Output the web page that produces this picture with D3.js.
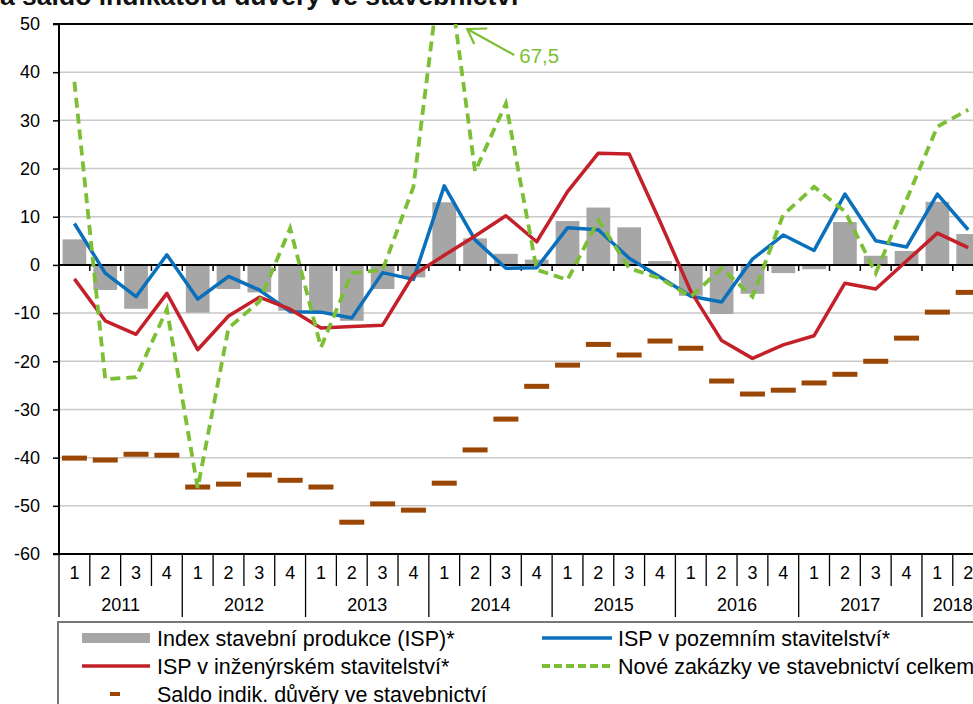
<!DOCTYPE html>
<html><head><meta charset="utf-8">
<script src="https://cdn.jsdelivr.net/npm/d3@7"></script>
<style>html,body{margin:0;padding:0;background:#fff;overflow:hidden}svg{display:block;font-family:"Liberation Sans",Arial,sans-serif}</style>
</head><body>
<svg id="c" width="973" height="704"></svg>
<script>
const years = ["2011","2012","2013","2014","2015","2016","2017","2018"];
const quarterLabels = ["1","2","3","4","1","2","3","4","1","2","3","4","1","2","3","4","1","2","3","4","1","2","3","4","1","2","3","4","1","2"];
const isp = [5.3,-5.2,-9.1,-0.2,-9.9,-5.0,-5.7,-9.5,-10.0,-11.6,-5.0,-2.6,13.0,5.5,2.3,1.1,9.1,11.9,7.8,0.8,-6.4,-10.2,-6.0,-1.7,-0.9,8.9,1.9,2.9,13.1,6.4];
const pozemni = [8.6,-1.7,-6.6,2.1,-7.1,-2.4,-5.2,-9.7,-9.8,-11.0,-1.6,-3.0,16.4,5.2,-0.7,-0.6,7.7,7.3,1.4,-2.5,-6.5,-7.7,1.2,6.2,3.0,14.7,5.0,3.7,14.7,7.3];
const inzenyrske = [-2.9,-11.6,-14.4,-5.9,-17.6,-10.6,-6.7,-9.2,-13.1,-12.8,-12.5,-2.1,2.0,6.0,10.2,4.8,15.2,23.2,23.0,9.0,-5.5,-15.7,-19.4,-16.6,-14.7,-3.8,-5.0,0.8,6.6,3.6];
const zakazky = [38.0,-23.7,-23.3,-9.2,-46.3,-13.1,-7.6,7.6,-17.1,-1.7,-1.0,16.2,67.5,19.4,33.5,-1.0,-3.1,9.3,-0.7,-2.8,-6.6,-0.7,-6.6,10.4,16.2,11.1,-1.7,13.5,28.7,32.2];
const saldo = [-40.1,-40.5,-39.3,-39.5,-46.1,-45.5,-43.6,-44.7,-46.1,-53.4,-49.6,-50.9,-45.3,-38.4,-32.0,-25.2,-20.8,-16.5,-18.7,-15.8,-17.3,-24.1,-26.8,-26.0,-24.5,-22.7,-20.0,-15.2,-9.8,-5.7];
const yTicks = [50,40,30,20,10,0,-10,-20,-30,-40,-50,-60];
const legendLabels = ["Index stavební produkce (ISP)*","ISP v pozemním stavitelství*","ISP v inženýrském stavitelství*","Nové zakázky ve stavebnictví celkem","Saldo indik. důvěry ve stavebnictví"];
const annotationLabel = "67,5";
const titleText = "a saldo indikátorů důvěry ve stavebnictví";

const W = 973, H = 704;
const L = 59, T = 24, B = 554, Q = 30.82;
const idx = d3.range(quarterLabels.length);
const x = d3.scaleBand().domain(idx).range([L, L + Q * idx.length]).paddingInner(0.23).paddingOuter(0.115);
const xc = i => x(i) + x.bandwidth() / 2;
const xb = d3.scaleLinear().domain([0, idx.length]).range([L, L + Q * idx.length]);
const y = d3.scaleLinear().domain([-60, 50]).range([B, T]);

const svg = d3.select("#c");
const C = {bar:"#a6a6a6", blue:"#0a70bb", red:"#c3202a", green:"#7cbf35", brown:"#9a4706", grid:"#c9c9c9"};

// title (partially cut off at top, as in the source)
svg.append("text").attr("x", 0).attr("y", 5).attr("font-size", 26.5).attr("font-weight", "bold").attr("fill", "#111").text(titleText);

svg.append("defs").append("clipPath").attr("id", "plot").append("rect")
  .attr("x", L).attr("y", T).attr("width", W - L).attr("height", B - T);

// gridlines
svg.append("g").selectAll("line").data(yTicks.filter(v => v !== 0 && v !== 50 && v !== -60)).join("line")
  .attr("x1", L).attr("x2", W).attr("y1", d => y(d)).attr("y2", d => y(d))
  .attr("stroke", C.grid).attr("stroke-width", 1.5);

// top border
svg.append("line").attr("x1", L - 6).attr("x2", W).attr("y1", y(50)).attr("y2", y(50)).attr("stroke", "#000").attr("stroke-width", 2);

// bars
svg.append("g").selectAll("rect").data(idx).join("rect")
  .attr("x", i => x(i)).attr("width", x.bandwidth())
  .attr("y", i => y(Math.max(0, isp[i]))).attr("height", i => Math.abs(y(isp[i]) - y(0)))
  .attr("fill", C.bar);

// zero line + ticks
svg.append("line").attr("x1", L).attr("x2", W).attr("y1", y(0)).attr("y2", y(0)).attr("stroke", "#000").attr("stroke-width", 2);
svg.append("g").selectAll("line").data(d3.range(1, idx.length + 1)).join("line")
  .attr("x1", d => xb(d)).attr("x2", d => xb(d)).attr("y1", y(0)).attr("y2", y(0) + 6)
  .attr("stroke", "#000").attr("stroke-width", 1.5);

const gp = svg.append("g").attr("clip-path", "url(#plot)");
// saldo markers
gp.append("g").selectAll("rect").data(idx).join("rect")
  .attr("x", i => xc(i) - 12.5).attr("width", 25)
  .attr("y", i => y(saldo[i]) - 2.5).attr("height", 5).attr("fill", C.brown);

const line = arr => d3.line().x(i => xc(i)).y(i => y(arr[i]))(idx);
gp.append("path").attr("d", line(pozemni)).attr("fill", "none").attr("stroke", C.blue).attr("stroke-width", 3.5).attr("stroke-linejoin", "round");
gp.append("path").attr("d", line(inzenyrske)).attr("fill", "none").attr("stroke", C.red).attr("stroke-width", 3.5).attr("stroke-linejoin", "round");
gp.append("path").attr("d", line(zakazky)).attr("fill", "none").attr("stroke", C.green).attr("stroke-width", 3.8).attr("stroke-dasharray", "10,6");

// y axis
const ya = svg.append("g").attr("transform", `translate(${L},0)`)
  .call(d3.axisLeft(y).tickValues(yTicks).tickSize(6).tickPadding(13).tickFormat(d => d));
ya.select(".domain").remove();
ya.selectAll(".tick line").attr("stroke", "#000").attr("stroke-width", 1.5);
ya.selectAll(".tick text").attr("font-size", 18).attr("fill", "#000").attr("font-family", "Liberation Sans, Arial, sans-serif");
svg.append("line").attr("x1", L).attr("x2", L).attr("y1", T - 1).attr("y2", B + 1).attr("stroke", "#000").attr("stroke-width", 2);

// bottom axis
svg.append("line").attr("x1", L - 6).attr("x2", W).attr("y1", B).attr("y2", B).attr("stroke", "#000").attr("stroke-width", 2);
svg.append("g").selectAll("line").data(d3.range(0, idx.length + 1)).join("line")
  .attr("x1", d => xb(d)).attr("x2", d => xb(d)).attr("y1", B).attr("y2", d => d % 4 === 0 ? 617 : 586)
  .attr("stroke", "#000").attr("stroke-width", 1.3);
svg.append("g").selectAll("text").data(idx).join("text")
  .attr("x", i => xc(i)).attr("y", 579).attr("text-anchor", "middle").attr("font-size", 18).text(i => quarterLabels[i]);
svg.append("g").selectAll("text").data(years).join("text")
  .attr("x", (d, k) => { const s = k * 4, e = Math.min(s + 4, idx.length); return (xb(s) + xb(e)) / 2; })
  .attr("y", 611).attr("text-anchor", "middle").attr("font-size", 18).text(d => d);

// annotation
const tip = [xc(12) + 23, y(50) + 5];
const ag = svg.append("g").attr("stroke", C.green).attr("stroke-width", 2.2).attr("fill", "none");
ag.append("line").attr("x1", tip[0]).attr("y1", tip[1]).attr("x2", tip[0] + 47).attr("y2", tip[1] + 26);
ag.append("path").attr("d", `M${tip[0] + 20},${tip[1] - 0.5} L${tip[0]},${tip[1]} L${tip[0] + 7},${tip[1] + 15}`);
svg.append("text").attr("x", tip[0] + 52).attr("y", tip[1] + 34).attr("font-size", 20.5).attr("fill", C.green).text(annotationLabel);

// legend
svg.append("rect").attr("x", 58).attr("y", 622).attr("width", 1000).attr("height", 200)
  .attr("fill", "none").attr("stroke", "#777").attr("stroke-width", 2);
const lg = svg.append("g").attr("font-size", 21.5);
const rows = [638, 666, 694];
lg.append("rect").attr("x", 82).attr("y", rows[0] - 5).attr("width", 68).attr("height", 10).attr("fill", C.bar);
lg.append("text").attr("x", 157).attr("y", rows[0] + 7.5).text(legendLabels[0]);
lg.append("line").attr("x1", 542).attr("x2", 612).attr("y1", rows[0]).attr("y2", rows[0]).attr("stroke", C.blue).attr("stroke-width", 3.5);
lg.append("text").attr("x", 618).attr("y", rows[0] + 7.5).text(legendLabels[1]);
lg.append("line").attr("x1", 82).attr("x2", 150).attr("y1", rows[1]).attr("y2", rows[1]).attr("stroke", C.red).attr("stroke-width", 3.5);
lg.append("text").attr("x", 157).attr("y", rows[1] + 7.5).text(legendLabels[2]);
lg.append("line").attr("x1", 542).attr("x2", 612).attr("y1", rows[1]).attr("y2", rows[1]).attr("stroke", C.green).attr("stroke-width", 3.8).attr("stroke-dasharray", "8,4");
lg.append("text").attr("x", 618).attr("y", rows[1] + 7.5).text(legendLabels[3]);
lg.append("rect").attr("x", 110).attr("y", rows[2] - 2).attr("width", 10).attr("height", 4).attr("fill", C.brown);
lg.append("text").attr("x", 157).attr("y", rows[2] + 7.5).text(legendLabels[4]);
</script>
</body></html>
